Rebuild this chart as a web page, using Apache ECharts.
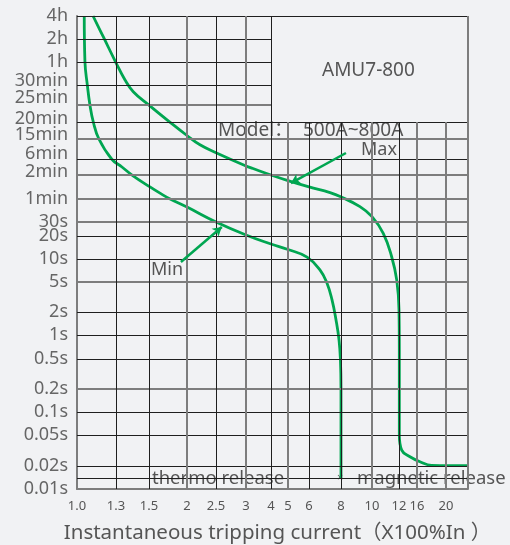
<!DOCTYPE html>
<html>
<head>
<meta charset="utf-8">
<script src="https://cdn.jsdelivr.net/npm/echarts@6/dist/echarts.min.js"></script>
<style>
  html, body { margin: 0; padding: 0; background: #f1f2f4; }
  #chart { width: 510px; height: 545px; }
</style>
</head>
<body>
<div id="chart"></div>
<script>
// Tick values and their printed labels
const xTickValues = [1.0, 1.3, 1.5, 2, 2.5, 3, 4, 5, 6, 8, 10, 12, 16, 20];
const xTickLabels = ['1.0', '1.3', '1.5', '2', '2.5', '3', '4', '5', '6', '8', '10', '12', '16', '20'];
const yTickValues = [0.01, 0.02, 0.05, 0.1, 0.2, 0.5, 1, 2, 5, 10, 20, 30, 60, 120, 360, 900, 1200, 1500, 1800, 3600, 7200, 14400];
const yTickLabels = ['0.01s', '0.02s', '0.05s', '0.1s', '0.2s', '0.5s', '1s', '2s', '5s', '10s', '20s', '30s',
  '1min', '2min', '6min', '15min', '20min', '25min', '30min', '1h', '2h', '4h'];

// Tripping curves: [current multiple of In, time in seconds]
const minCurve = [
  [1.05, 14400], [1.055, 3600], [1.072, 1800], [1.091, 1500], [1.116, 1200], [1.159, 900],
  [1.262, 360], [1.334, 208], [1.40, 117], [1.511, 85], [1.63, 71], [1.76, 60], [2.0, 47],
  [2.5, 30], [3.0, 20.6], [4.0, 15.7], [5.0, 13.3], [5.9, 10.6], [6.62, 7.2], [7.05, 4.85],
  [7.38, 2.89], [7.65, 1.57], [7.86, 0.865], [7.96, 0.485], [8.0, 0.2], [8.0, 0.015]
];
const maxCurve = [
  [1.114, 14400], [1.193, 7717], [1.298, 3570], [1.352, 2092], [1.401, 1694], [1.503, 1494],
  [1.76, 1194], [2.0, 955], [2.21, 690], [2.5, 481], [3.0, 223], [3.25, 187],
  [4.0, 120], [5.0, 102], [6.0, 85], [7.25, 72], [7.98, 64], [9.17, 47.6], [10, 35.2],
  [10.79, 21.6], [11.42, 10.7], [11.82, 5.3], [12.0, 2.12], [12.06, 0.648], [12.06, 0.05],
  [12.53, 0.032], [14.3, 0.0263], [16.37, 0.0227], [17.9, 0.0204], [24, 0.0202]
];

// Piecewise scales of the chart paper (value -> axis units), log-interpolated between stops
const xScale = {
  values: [1.0, 1.3, 1.5, 2, 2.5, 3, 4, 5, 6, 8, 10, 12, 16, 20, 24],
  pos:    [0, 39, 72, 110, 139, 169, 194, 211, 232, 264, 295, 322, 340, 369, 391]
};
const yScale = {
  values: [0.01, 0.015, 0.02, 0.05, 0.1, 0.2, 0.5, 1, 2, 5, 10, 20, 30, 60, 120, 360, 900, 1200, 1500, 1800, 3600, 7200, 14400],
  pos:    [0, 11, 23, 54, 77, 100, 130, 154, 177, 207, 230, 253, 267, 290, 314, 330, 350, 367, 384, 404, 427, 450, 473]
};

function mapScale(scale, v) {
  const vs = scale.values, ps = scale.pos;
  if (v <= vs[0]) return ps[0];
  for (let i = 1; i < vs.length; i++) {
    if (v <= vs[i]) {
      const t = Math.log(v / vs[i - 1]) / Math.log(vs[i] / vs[i - 1]);
      return ps[i - 1] + t * (ps[i] - ps[i - 1]);
    }
  }
  return ps[ps.length - 1];
}
const toAxis = p => [mapScale(xScale, p[0]), mapScale(yScale, p[1])];

const X_MAX = xScale.pos[xScale.pos.length - 1];
const Y_MAX = yScale.pos[yScale.pos.length - 1];
const X_END = xScale.values[xScale.values.length - 1];

const FONT = '"Noto Sans", "Noto Sans CJK SC", sans-serif';
const GREEN = '#00a651';
const DARK = '#1f1f1f';
const GREY = '#7d7d7d';

// Lines printed heavier grey on the paper
const greyX = [2, 3, 5, 10, 16, 20, 24];
const greyY = [1500, 900, 120, 60, 30, 5, 0.2];

// Grid segments: upper-right corner is kept blank for the title box
const gridSegs = [];
function seg(a, b, grey) {
  const style = grey ? { color: GREY, width: 2, type: 'solid' } : { color: DARK, width: 1, type: 'solid' };
  gridSegs.push([{ coord: toAxis(a), lineStyle: style }, { coord: toAxis(b) }]);
}
const yLines = yTickValues.slice(1).concat([0.015]);
yLines.forEach(s => {
  const grey = greyY.includes(s);
  if (s >= 1500 && s < 14400) seg([1.0, s], [4, s], grey);
  else seg([1.0, s], [X_END, s], grey);
});
xTickValues.slice(1).concat([X_END]).forEach(c => {
  const grey = greyX.includes(c);
  if (c > 4 && c < X_END) seg([c, 0.01], [c, 1200], grey);
  else seg([c, 0.01], [c, 14400], grey);
});

// Some upper time labels sit a little above their lines
const yLabelLift = { '30min': 4, '25min': 7, '20min': 3, '15min': 4, '6min': 5, '2min': 3 };

const xLabelByPos = {};
xTickValues.forEach((v, i) => { xLabelByPos[Math.round(mapScale(xScale, v))] = xTickLabels[i]; });
const yLabelByPos = {};
yTickValues.forEach((v, i) => { yLabelByPos[Math.round(mapScale(yScale, v))] = yTickLabels[i]; });

const liftRich = {};
[0, 3, 4, 5, 7].forEach(n => {
  liftRich['l' + n] = { color: '#666', fontSize: 18, fontFamily: FONT, padding: [0, 0, 2 * n, 0] };
});

const chart = echarts.init(document.getElementById('chart'));
chart.setOption({
  backgroundColor: '#f1f2f4',
  animation: false,
  grid: { left: 77, right: 42, top: 16, bottom: 56, containLabel: false, outerBoundsMode: 'none' },
  xAxis: {
    type: 'value', min: 0, max: X_MAX,
    axisLine: { show: true, lineStyle: { color: GREY, width: 2 } },
    axisTick: { show: false, customValues: xTickValues.map(v => mapScale(xScale, v)) },
    splitLine: { show: false },
    axisLabel: {
      customValues: xTickValues.map(v => mapScale(xScale, v)),
      formatter: v => xLabelByPos[Math.round(v)] || '',
      color: '#555', fontSize: 13, fontFamily: FONT, margin: 11
    },
    name: 'Instantaneous tripping current（X100%In ）',
    nameLocation: 'middle', nameGap: 34,
    nameTextStyle: { color: '#555', fontSize: 20.5, fontFamily: FONT, padding: [0, 0, 0, 10] }
  },
  yAxis: {
    type: 'value', min: 0, max: Y_MAX,
    axisLine: { show: true, lineStyle: { color: GREY, width: 2 } },
    axisTick: { show: false, customValues: yTickValues.map(v => mapScale(yScale, v)) },
    splitLine: { show: false },
    axisLabel: {
      customValues: yTickValues.map(v => mapScale(yScale, v)),
      formatter: v => {
        const t = yLabelByPos[Math.round(v)] || '';
        return '{l' + (yLabelLift[t] || 0) + '|' + t + '}';
      },
      rich: liftRich,
      color: '#666', fontSize: 18, fontFamily: FONT, margin: 9
    }
  },
  series: [
    {
      type: 'line', data: [[0, 0]], symbol: 'none', silent: true, z: 1,
      lineStyle: { opacity: 0 },
      markLine: {
        silent: true, symbol: ['none', 'none'], animation: false,
        label: { show: false }, data: gridSegs
      }
    },
    {
      name: 'Min', type: 'line', data: minCurve.map(toAxis), symbol: 'none', smooth: 0.45, z: 3,
      lineStyle: { color: GREEN, width: 2.8 },
      markLine: {
        silent: true, symbol: ['none', 'arrow'], symbolSize: [8, 9], animation: false,
        label: { show: false }, lineStyle: { color: GREEN, width: 2.5, type: 'solid' },
        data: [[{ coord: toAxis([1.91, 9.14]) }, { coord: toAxis([2.59, 26]) }]]
      }
    },
    {
      name: 'Max', type: 'line', data: maxCurve.map(toAxis), symbol: 'none', smooth: 0.45, z: 3,
      lineStyle: { color: GREEN, width: 2.8 },
      markLine: {
        silent: true, symbol: ['none', 'arrow'], symbolSize: [8, 9], animation: false,
        label: { show: false }, lineStyle: { color: GREEN, width: 2.5, type: 'solid' },
        data: [[{ coord: toAxis([8.29, 474]) }, { coord: toAxis([5.13, 95]) }]]
      }
    }
  ],
  graphic: [
    { type: 'text', left: 322, top: 61, style: { text: 'AMU7-800', fill: '#555', font: '19px ' + FONT } },
    { type: 'text', left: 218, top: 121, style: { text: 'Model：  500A~800A', fill: '#555', font: '19px ' + FONT } },
    { type: 'text', left: 361, top: 141, style: { text: 'Max', fill: '#555', font: '18px ' + FONT } },
    { type: 'text', left: 151, top: 261, style: { text: 'Min', fill: '#555', font: '18px ' + FONT } },
    { type: 'text', left: 152, top: 469, style: { text: 'thermo release', fill: '#555', font: '18.5px ' + FONT } },
    { type: 'text', left: 337, top: 472, style: { text: '×', fill: '#555', font: '11px ' + FONT } },
    { type: 'text', left: 357, top: 469, style: { text: 'magnetic release', fill: '#555', font: '18.5px ' + FONT } }
  ]
});
</script>
</body>
</html>
